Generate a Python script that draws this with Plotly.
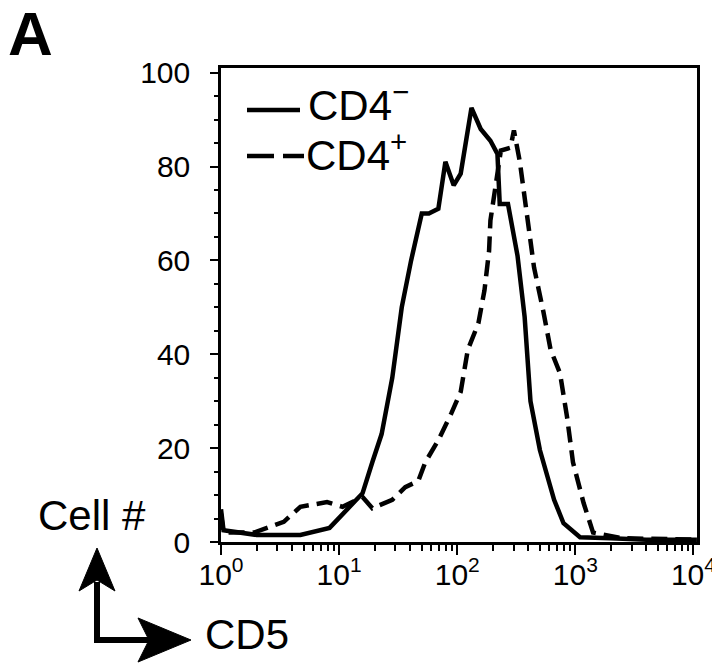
import plotly.graph_objects as go

# ---- data ----
cd5_neg = [1.0, 1.05, 2.0, 4.7, 8.3, 10.7, 15.8, 19.1, 22.9, 28.2, 33.9, 40.7, 50.1, 57.5,
           69.2, 79.4, 93.3, 107, 132, 158, 191, 219, 229, 269, 324, 372, 417, 501, 661,
           794, 1096, 1995, 3981, 10700]
cells_neg = [7, 2.5, 1.5, 1.5, 3, 6, 10.4, 17, 23, 35, 50, 60, 70, 70,
             71, 81, 76, 78.5, 92.5, 88, 85.5, 82.7, 72, 72, 61, 48, 30, 19.6, 9,
             4, 1, 0.8, 0.5, 0.5]

cd5_pos = [1.0, 1.05, 1.9, 3.4, 4.7, 7.9, 10.7, 15.8, 19.1, 28.2, 36.3, 46.8, 53.7, 69.2,
           89.1, 107, 123, 151, 170, 186, 191, 234, 282, 302, 339, 389, 447, 537, 617,
           741, 851, 955, 1175, 1413, 2512, 10700]
cells_pos = [6, 2, 2, 4.3, 7.5, 8.5, 7.5, 9.6, 7.2, 9, 11.7, 13, 17, 21.7,
             27.4, 32, 41, 46.6, 53.6, 62, 68.5, 83.4, 84, 87.7, 81, 70.6, 58.5, 49, 41,
             36, 26.6, 17, 8.3, 2, 0.8, 0.5]

x_tickvals = [1, 10, 100, 1000, 10000]
x_ticktext = ["10<sup>0</sup>", "10<sup>1</sup>", "10<sup>2</sup>", "10<sup>3</sup>", "10<sup>4</sup>"]
x_minor = [k * d for d in (1, 10, 100, 1000) for k in range(2, 10)]
y_tickvals = [0, 20, 40, 60, 80, 100]

series_names = ["CD4<sup>−</sup>", "CD4<sup>+</sup>"]

FONT = "Liberation Sans, Arial, Helvetica, sans-serif"

# screen geometry (page has an 8px body margin)
OFF = 8
SW, SH = 720, 666
PL, PR, PT, PB = 221, 697, 68, 542   # plot area in screen pixels
W, H = SW - OFF, SH - OFF
L, R, T, B = PL - OFF, SW - PR, PT - OFF, SH - PB

def pp(px, py):
    # screen pixel position -> paper coords
    return (px - PL) / (PR - PL), (PB - py) / (PB - PT)

DASH = "16px,8px"

fig = go.Figure()
fig.add_trace(go.Scatter(x=cd5_neg, y=cells_neg, mode="lines", name=series_names[0],
                         line=dict(color="black", width=4.5), showlegend=False))
fig.add_trace(go.Scatter(x=cd5_pos, y=cells_pos, mode="lines", name=series_names[1],
                         line=dict(color="black", width=4.5, dash=DASH), showlegend=False))

axis_common = dict(showline=True, linecolor="black", linewidth=2.5, mirror=True,
                   showgrid=False, zeroline=False, ticks="outside", tickcolor="black",
                   tickwidth=2, tickfont=dict(family=FONT, size=30, color="black"))

fig.update_xaxes(type="log", range=[0, 4.03], tickvals=x_tickvals, ticktext=x_ticktext,
                 ticklen=10, ticklabelstandoff=-6,
                 minor=dict(tickvals=x_minor, ticks="outside", ticklen=6, tickwidth=2,
                            tickcolor="black"),
                 **axis_common)
fig.update_yaxes(range=[0, 101], tickvals=y_tickvals, ticklen=8, ticklabelstandoff=14,
                 minor=dict(dtick=5, ticks="outside", ticklen=4, tickwidth=2,
                            tickcolor="black"),
                 **axis_common)

def path(points):
    pts = [pp(*p) for p in points]
    return "M " + " L ".join(f"{x:.4f},{y:.4f}" for x, y in pts) + " Z"

def seg(p0, p1, width, dash="solid"):
    x0, y0 = pp(*p0); x1, y1 = pp(*p1)
    return dict(type="line", xref="paper", yref="paper", x0=x0, y0=y0, x1=x1, y1=y1,
                line=dict(color="black", width=width, dash=dash))

shapes = []
# legend samples
shapes.append(seg((247, 110), (300, 110), 4.5))
shapes.append(seg((247, 156), (274, 156), 4.5))
shapes.append(seg((283, 156), (304, 156), 4.5))
# axis-direction arrows
shapes.append(seg((97, 582), (97, 643), 6))
shapes.append(seg((94, 640), (150, 640), 6))
shapes.append(dict(type="path", xref="paper", yref="paper",
                   path=path([(97, 548), (115, 591), (97, 580), (79, 591)]),
                   fillcolor="black", line=dict(color="black", width=1)))
shapes.append(dict(type="path", xref="paper", yref="paper",
                   path=path([(191, 640), (138, 662), (149, 640), (138, 618)]),
                   fillcolor="black", line=dict(color="black", width=1)))

def label(text, px, py, size, xanchor="center"):
    x, y = pp(px, py)
    return dict(text=text, x=x, y=y, xref="paper", yref="paper", showarrow=False,
                xanchor=xanchor, yanchor="middle",
                font=dict(family=FONT, size=size, color="black"))

annotations = [
    label("<b>A</b>", 30, 34, 62),
    label("Cell #", 92, 515, 42),
    label("CD5", 247, 634, 42),
    label(series_names[0], 306, 102, 42, xanchor="left"),
    label(series_names[1], 304, 152, 42, xanchor="left"),
]

fig.update_layout(
    width=W, height=H,
    margin=dict(l=L, r=R, t=T, b=B, autoexpand=False),
    paper_bgcolor="white", plot_bgcolor="white",
    showlegend=False,
    shapes=shapes, annotations=annotations,
)

fig.write_html("out.html")
